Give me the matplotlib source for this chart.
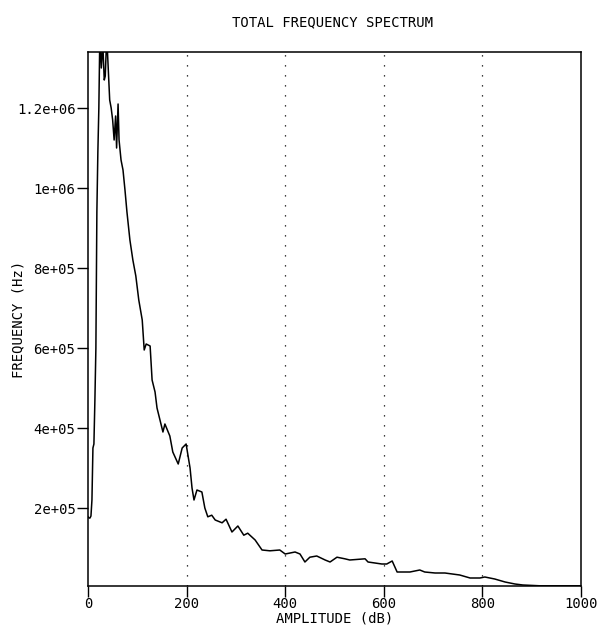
import matplotlib
matplotlib.use("Agg")
import matplotlib.pyplot as plt

amplitude = [0, 2, 4, 6, 8, 10, 12, 14, 16, 18, 20, 22, 24, 27, 30, 33, 35, 38, 41, 44,
             47, 50, 53, 56, 58, 61, 63, 67, 71, 75, 79, 85, 91, 97, 103, 110, 114, 118,
             126, 130, 136, 140, 146, 152, 156, 166, 172, 183, 191, 199, 203, 207, 211,
             215, 221, 231, 237, 243, 251, 258, 272, 280, 292, 304, 316, 324, 339, 353,
             369, 389, 400, 420, 430, 440, 450, 464, 481, 491, 505, 521, 531, 562, 568,
             596, 606, 617, 627, 653, 673, 683, 704, 724, 754, 775, 795, 805, 825, 846,
             866, 882, 917, 957, 1000]
frequency = [1.78e5, 1.75e5, 1.75e5, 1.8e5, 2.2e5, 3.5e5, 3.6e5, 4.7e5, 6.0e5, 9.4e5,
             1.09e6, 1.2e6, 1.38e6, 1.30e6, 1.36e6, 1.27e6, 1.28e6, 1.38e6, 1.30e6, 1.22e6,
             1.20e6, 1.17e6, 1.12e6, 1.18e6, 1.10e6, 1.21e6, 1.12e6, 1.07e6, 1.045e6,
             9.95e5, 9.4e5, 8.7e5, 8.2e5, 7.8e5, 7.2e5, 6.7e5, 5.95e5, 6.1e5, 6.05e5,
             5.2e5, 4.9e5, 4.5e5, 4.2e5, 3.9e5, 4.1e5, 3.8e5, 3.4e5, 3.1e5, 3.5e5, 3.6e5,
             3.3e5, 3.0e5, 2.5e5, 2.2e5, 2.45e5, 2.4e5, 2.0e5, 1.78e5, 1.82e5, 1.7e5,
             1.63e5, 1.72e5, 1.4e5, 1.55e5, 1.32e5, 1.37e5, 1.2e5, 9.5e4, 9.3e4, 9.5e4,
             8.5e4, 9.0e4, 8.5e4, 6.5e4, 7.7e4, 8.0e4, 7.0e4, 6.5e4, 7.7e4, 7.3e4, 7.0e4,
             7.3e4, 6.5e4, 6.0e4, 6.0e4, 6.75e4, 4.0e4, 4.0e4, 4.5e4, 4.0e4, 3.75e4,
             3.75e4, 3.25e4, 2.5e4, 2.5e4, 2.75e4, 2.25e4, 1.5e4, 1.0e4, 7.5e3, 5.5e3,
             5.5e3, 5.5e3]

x_ticks = [0, 200, 400, 600, 800, 1000]
x_tick_labels = ["0", "200", "400", "600", "800", "1000"]
y_ticks = [2e5, 4e5, 6e5, 8e5, 1e6, 1.2e6]
y_tick_labels = ["2e+05", "4e+05", "6e+05", "8e+05", "1e+06", "1.2e+06"]
grid_x = [200, 400, 600, 800]

plt.rcParams['font.family'] = ['DejaVu Sans Mono']
fig = plt.figure(figsize=(5.99, 6.26), dpi=100)
ax = fig.add_axes([88/599, (626-586)/626, (581-88)/599, (586-52)/626])

for gx in grid_x:
    ax.axvline(gx, color='black', linestyle=(0, (1, 7)), linewidth=0.9)

ax.plot(amplitude, frequency, color='black', linewidth=1.1, clip_on=True)

ax.set_xlim(0, 1000)
ax.set_ylim(5000, 1.34e6)
ax.set_xticks(x_ticks)
ax.set_xticklabels(x_tick_labels)
ax.set_yticks(y_ticks)
ax.set_yticklabels(y_tick_labels)
ax.tick_params(axis='both', direction='out', length=8, width=1, labelsize=10, pad=1, colors='black')
ax.tick_params(axis='x', pad=0)
for s in ax.spines.values():
    s.set_linewidth(1.1)

ax.set_xlabel("AMPLITUDE (dB)", fontsize=10, labelpad=0)
ax.set_ylabel("FREQUENCY (Hz)", fontsize=10, labelpad=-6)
fig.text(0.555, 1 - 22/626, "TOTAL FREQUENCY SPECTRUM", ha='center', va='center', fontsize=10)

fig.savefig("out.png", dpi=100)
